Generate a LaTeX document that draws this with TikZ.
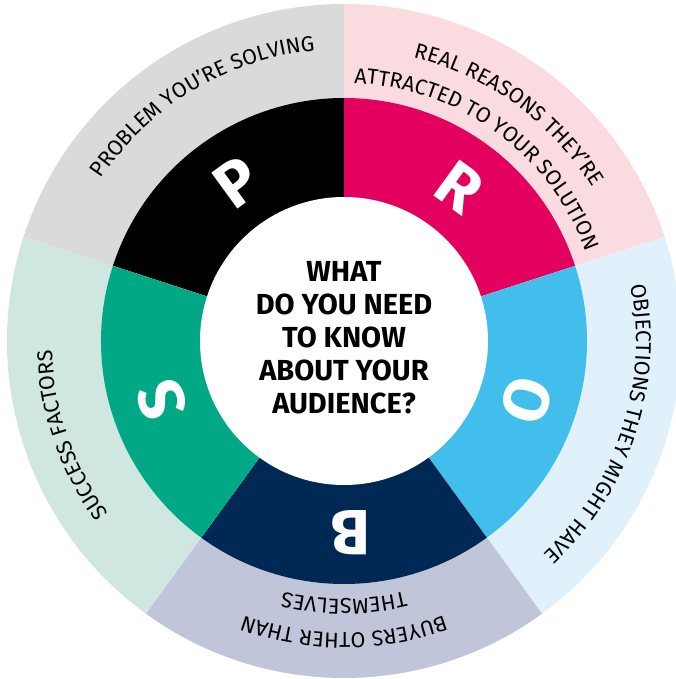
\documentclass[tikz,border=0pt]{standalone}
\usepackage{fontspec}
\setmainfont{Fira Sans}
\usetikzlibrary{decorations.text}

\definecolor{pink}{HTML}{E4005F}
\definecolor{sky}{HTML}{41BEEC}
\definecolor{navy}{HTML}{002855}
\definecolor{teal}{HTML}{00A886}
\definecolor{pgrey}{HTML}{DADADA}
\definecolor{rpink}{HTML}{FADBE0}
\definecolor{osky}{HTML}{E1F1FC}
\definecolor{bnavy}{HTML}{C1C5DA}
\definecolor{steal}{HTML}{CFE7E0}

\newcommand*{\ringfont}{\fontsize{21.5}{21.5}\selectfont}

\begin{document}
\begin{tikzpicture}[x=1pt,y=1pt]
	\tikzset{%
		letter/.style={text=white,inner sep=0pt,font=\bfseries\fontsize{64}{64}\selectfont},
		question/.style={align=center,font=\bfseries\fontsize{29}{33}\selectfont},
		arctext/.style={decorate,decoration={text along path,text align=center,text={|\ringfont|#1}}},
	}

	\def\rin{144}
	\def\rmid{243}
	\def\rout{337}
	\def\rlet{192}

	\useasboundingbox (-344,-338) rectangle (332,341);

	% one slice: start angle, ring colour, rim colour
	\newcommand*{\prosector}[3]{%
	\fill [#3] (0,0) -- (#1:\rout) arc[start angle=#1,delta angle=72,radius=\rout] -- cycle;
	\fill [#2] (0,0) -- (#1:\rmid) arc[start angle=#1,delta angle=72,radius=\rmid] -- cycle;
	}

	\prosector{90}{black}{pgrey}
	\prosector{18}{pink}{rpink}
	\prosector{-54}{sky}{osky}
	\prosector{-126}{navy}{bnavy}
	\prosector{162}{teal}{steal}

	\fill [white] (0,0) circle[radius=\rin];

	\node [letter,rotate=36] (p) at (124:\rlet) {P};
	\node [letter,rotate=-36] (r) at (53:\rlet) {R};
	\node [letter,rotate=-108] (o) at (-18:\rlet) {O};
	\node [letter,rotate=180] (b) at (-88:\rlet) {B};
	\node [letter,rotate=108] (s) at (198:\rlet) {S};

	\node [question] (q) at (0,3) {WHAT\\DO YOU NEED\\TO KNOW\\ABOUT YOUR\\AUDIENCE?};

	% rim labels, read clockwise
	\path [arctext={PROBLEM YOU’RE SOLVING}] (171:292) arc[start angle=171,end angle=71,radius=292];
	\path [arctext={REAL REASONS THEY’RE}] (104:292) arc[start angle=104,end angle=4,radius=292];
	\path [arctext={ATTRACTED TO YOUR SOLUTION}] (104:258) arc[start angle=104,end angle=4,radius=258];
	\path [arctext={OBJECTIONS THEY MIGHT HAVE}] (32:292) arc[start angle=32,end angle=-68,radius=292];
	\path [arctext={BUYERS OTHER THAN}] (-40:292) arc[start angle=-40,end angle=-140,radius=292];
	\path [arctext={THEMSELVES}] (-40:258) arc[start angle=-40,end angle=-140,radius=258];
	\path [arctext={SUCCESS FACTORS}] (249:292) arc[start angle=249,end angle=149,radius=292];
\end{tikzpicture}
\end{document}
